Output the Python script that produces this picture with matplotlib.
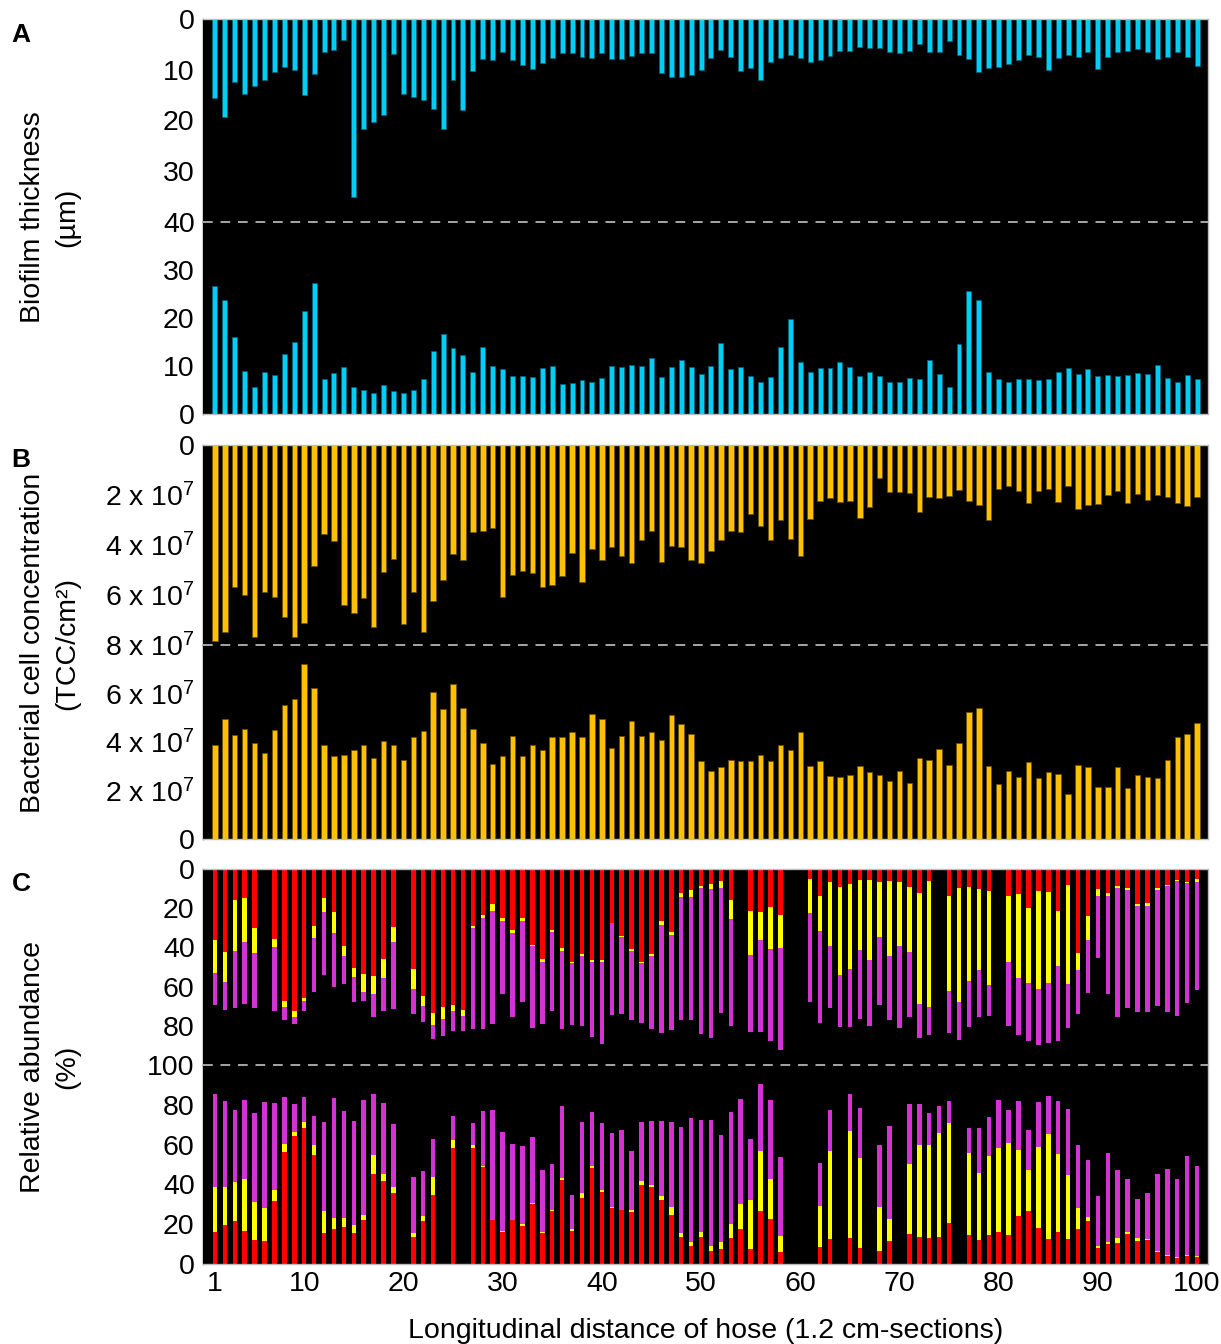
import numpy as np
import matplotlib
matplotlib.use("Agg")
import matplotlib.pyplot as plt

plt.rcParams['font.family'] = ['Liberation Sans', 'DejaVu Sans']
plt.rcParams['mathtext.fontset'] = 'custom'
plt.rcParams['mathtext.rm'] = 'Liberation Sans'
plt.rcParams['mathtext.it'] = 'Liberation Sans'

nan = np.nan
sections = np.arange(1, 101)

# A: biofilm thickness (um), top = upper half (hanging), bottom = lower half
thick_top = [15.5, 19.3, 12.5, 14.8, 13.2, 12.0, 10.5, 9.5, 10.1, 15.0,
             10.9, 6.5, 6.1, 4.1, 35.1, 21.7, 20.3, 18.9, 6.8, 14.7,
             15.3, 16.0, 17.7, 21.6, 12.0, 17.9, 10.3, 7.8, 8.0, 6.6,
             8.0, 9.0, 9.9, 8.7, 7.6, 6.7, 6.7, 7.4, 7.7, 6.7,
             7.8, 7.8, 7.3, 6.7, 6.7, 10.7, 11.5, 11.5, 11.1, 10.0,
             7.6, 6.2, 7.4, 10.3, 9.7, 12.1, 8.5, 7.6, 7.0, 7.6,
             8.5, 8.0, 7.3, 6.4, 6.4, 5.5, 5.7, 5.7, 6.5, 6.7,
             6.3, 4.9, 6.5, 6.5, 4.3, 7.0, 7.8, 10.5, 9.7, 9.5,
             8.8, 8.0, 7.0, 7.4, 10.0, 7.6, 7.0, 7.4, 6.5, 9.9,
             7.4, 6.5, 6.3, 6.0, 6.5, 7.8, 7.4, 6.5, 7.4, 9.2]
thick_bot = [26.6, 23.7, 16.1, 9.0, 5.7, 8.8, 8.2, 12.5, 14.9, 21.4,
             27.3, 7.2, 8.6, 9.7, 5.7, 5.0, 4.4, 6.1, 4.8, 4.4,
             5.0, 7.3, 13.1, 16.7, 13.7, 12.2, 8.8, 13.9, 9.9, 9.3,
             8.0, 8.0, 7.7, 9.6, 10.0, 6.2, 6.4, 7.0, 6.7, 7.5,
             9.9, 9.7, 10.3, 9.9, 11.6, 7.7, 9.7, 11.2, 9.7, 8.4,
             10.0, 14.8, 9.3, 9.7, 8.0, 6.7, 7.7, 13.9, 19.7, 10.8,
             8.8, 9.6, 9.6, 10.8, 9.7, 8.0, 8.8, 8.0, 6.7, 6.7,
             7.5, 7.3, 11.2, 8.4, 5.7, 14.5, 25.6, 23.7, 8.8, 7.2,
             6.7, 7.3, 7.3, 7.0, 7.3, 8.8, 9.6, 8.4, 9.3, 8.0,
             8.2, 8.0, 8.2, 8.6, 8.4, 10.3, 7.5, 6.7, 8.2, 7.3]

# B: bacterial cell concentration (x 1e7 TCC/cm2)
tcc_top = [7.83, 7.49, 5.69, 5.99, 7.69, 5.88, 6.09, 6.89, 7.69, 7.13,
           4.84, 3.56, 3.85, 6.40, 6.72, 6.13, 7.28, 5.08, 4.56, 7.17,
           5.88, 7.49, 6.25, 5.40, 4.35, 4.59, 3.47, 3.44, 3.31, 6.09,
           5.20, 5.05, 5.11, 5.69, 5.61, 5.24, 4.31, 5.48, 4.16, 4.59,
           4.09, 4.45, 4.73, 3.80, 3.44, 4.69, 4.04, 4.09, 4.59, 4.73,
           4.25, 3.80, 3.44, 3.48, 2.77, 3.25, 3.80, 3.01, 3.76, 4.45,
           2.95, 2.25, 2.12, 2.29, 2.25, 2.91, 2.49, 1.31, 1.87, 1.87,
           1.91, 2.67, 2.08, 2.12, 2.05, 1.80, 2.25, 2.40, 2.99, 1.76,
           1.65, 1.83, 2.32, 1.83, 1.76, 2.29, 1.65, 2.56, 2.40, 2.36,
           2.01, 1.83, 2.32, 1.96, 2.21, 2.01, 2.08, 2.32, 2.45, 2.08]
tcc_bot = [3.89, 4.93, 4.30, 4.52, 3.97, 3.53, 4.48, 5.52, 5.78, 7.21,
           6.21, 3.89, 3.44, 3.47, 3.68, 3.89, 3.33, 4.04, 3.89, 3.26,
           4.19, 4.45, 6.08, 5.37, 6.41, 5.41, 4.52, 3.97, 3.11, 3.44,
           4.26, 3.44, 3.89, 3.68, 4.19, 4.22, 4.41, 4.22, 5.16, 4.93,
           3.77, 4.26, 4.88, 4.26, 4.41, 4.10, 5.12, 4.73, 4.34, 3.22,
           2.82, 2.96, 3.26, 3.22, 3.22, 3.47, 3.22, 3.89, 3.68, 4.40,
           3.00, 3.22, 2.59, 2.55, 2.62, 3.00, 2.75, 2.62, 2.40, 2.82,
           2.32, 3.33, 3.26, 3.73, 3.04, 3.97, 5.23, 5.41, 3.00, 2.25,
           2.82, 2.55, 3.16, 2.51, 2.75, 2.66, 1.85, 3.04, 2.96, 2.15,
           2.15, 2.96, 2.11, 2.62, 2.55, 2.51, 3.26, 4.19, 4.34, 4.77]

# C: relative abundance (%) of three groups, upper half
ab_top_red = [36.1, 42.1, 16.0, 14.8, 30.0, nan, 35.8, 67.6, 72.7, 65.6,
              29.0, 14.8, 22.0, 39.5, 50.6, 53.5, 54.5, 45.7, 29.6, nan,
              50.9, 64.6, 73.4, 70.2, 69.3, 71.9, 29.0, 23.3, 17.9, 25.2,
              31.3, 25.2, 38.7, 46.0, 31.3, 40.2, 47.7, 43.4, 46.3, 46.3,
              27.6, 34.1, 40.7, 47.7, 43.4, 26.4, 31.9, 12.3, 10.6, 8.6,
              7.5, 6.0, 15.8, nan, 21.4, 21.7, 19.2, 23.5, nan, nan,
              5.0, 13.7, 6.5, 9.2, 7.5, 5.5, 5.5, 6.5, 6.0, 6.5,
              9.2, 12.3, 6.0, nan, 13.7, 9.8, 9.2, 10.1, 11.3, nan,
              13.7, 12.7, 20.0, 11.3, 11.8, 21.4, 8.0, 42.8, 24.0, 10.1,
              12.3, 8.6, 9.8, 17.8, 17.1, 9.8, 8.0, 5.5, 6.5, 5.1]
ab_top_yel = [17.0, 15.7, 25.6, 22.3, 13.1, nan, 4.1, 2.6, 2.8, 1.7,
              6.3, 7.2, 10.7, 4.8, 4.3, 9.0, 9.4, 9.7, 7.5, nan,
              10.4, 5.1, 6.2, 6.3, 3.1, 2.9, 1.2, 1.9, 3.4, 1.2,
              1.6, 1.2, 0.5, 1.4, 0.6, 1.4, 0.5, 1.1, 0.9, 0.9,
              0.0, 0.7, 1.0, 0.5, 1.2, 2.0, 1.7, 2.0, 3.8, 1.2,
              2.6, 3.8, 9.7, nan, 22.6, 14.6, 21.4, 16.6, nan, nan,
              17.6, 18.0, 32.9, 45.1, 43.4, 35.6, 40.7, 28.4, 38.5, 32.9,
              33.3, 56.5, 64.5, nan, 48.6, 58.2, 48.0, 41.6, 47.8, nan,
              33.9, 42.8, 38.2, 49.8, 46.4, 28.3, 50.6, 8.6, 12.3, 3.6,
              1.4, 1.2, 0.8, 0.9, 1.6, 0.8, 0.9, 0.5, 0.5, 1.7]
ab_top_mag = [16.2, 14.1, 29.1, 31.7, 27.6, nan, 32.3, 7.0, 3.5, 4.9,
              27.2, 32.0, 27.6, 14.5, 13.2, 5.1, 11.4, 17.3, 34.3, nan,
              12.6, 8.2, 7.3, 8.5, 10.4, 8.0, 51.2, 56.2, 57.7, 37.5,
              42.4, 41.7, 41.7, 31.6, 40.8, 40.0, 31.4, 35.7, 38.7, 41.9,
              46.8, 39.1, 35.3, 30.2, 37.0, 55.4, 48.5, 62.7, 62.5, 74.4,
              76.2, 63.8, 54.5, nan, 39.4, 47.1, 47.1, 52.2, nan, nan,
              45.4, 46.9, 31.7, 26.2, 29.6, 35.3, 33.8, 34.3, 32.4, 41.9,
              32.8, 17.5, 14.3, nan, 21.4, 19.2, 23.6, 24.0, 15.7, nan,
              32.4, 29.3, 29.8, 28.6, 30.8, 38.3, 22.7, 22.6, 27.1, 31.5,
              50.3, 65.5, 60.5, 54.1, 54.4, 59.4, 64.2, 68.8, 61.5, 54.7]

# C: lower half
ab_bot_red = [15.9, 19.4, 21.4, 16.7, 12.2, 11.7, 31.7, 56.3, 64.3, 68.3,
              54.8, 15.4, 17.4, 18.4, 15.7, 21.9, 45.4, 41.6, 35.9, nan,
              13.7, 21.4, 34.7, nan, 58.4, nan, 58.4, 48.6, 22.0, 16.0,
              21.9, 18.9, 30.0, 15.5, 26.4, 42.2, 16.4, 33.4, 48.2, 36.4,
              27.9, 26.9, 26.0, 39.7, 38.9, 32.2, 24.7, 13.7, 9.2, 13.5,
              6.5, 7.3, 13.0, 17.7, 7.3, 26.5, 22.8, 6.0, nan, nan,
              nan, 8.5, 12.5, nan, 13.0, 7.8, nan, 6.5, 11.5, nan,
              15.0, 13.5, 13.0, 13.5, 20.8, nan, 14.7, 12.0, 14.7, 16.0,
              14.7, 24.3, 26.5, 18.2, 12.5, 16.0, 12.5, 17.7, 21.7, 7.8,
              9.8, 10.7, 15.3, 11.5, 12.3, 6.2, 4.0, 3.0, 3.8, 3.6]
ab_bot_yel = [22.7, 19.5, 19.7, 25.9, 19.0, 16.3, 5.5, 4.0, 2.1, 3.0,
              5.0, 11.3, 5.5, 4.5, 4.0, 2.6, 9.4, 3.8, 3.0, nan,
              1.7, 2.8, 8.9, nan, 3.7, nan, 1.4, 0.6, 0.2, 0.4,
              0.3, 1.0, 0.6, 0.4, 0.5, 0.9, 1.1, 2.2, 1.0, 0.8,
              0.8, 0.3, 1.2, 2.0, 0.8, 2.0, 3.8, 1.8, 1.8, 2.5,
              2.7, 3.7, 7.3, 12.5, 25.0, 30.2, 20.0, 8.0, nan, nan,
              nan, 20.5, 44.5, nan, 53.7, 45.5, nan, 22.0, 11.2, nan,
              35.2, 46.5, 47.0, 52.3, 50.2, nan, 41.0, 33.7, 39.8, 42.3,
              46.0, 32.9, 20.5, 40.8, 53.0, 39.2, 32.3, 10.3, 1.8, 1.4,
              1.4, 2.5, 0.9, 1.5, 0.4, 0.3, 0.5, 0.5, 0.5, 0.3]
ab_bot_mag = [47.0, 43.1, 36.5, 40.0, 44.8, 53.5, 43.6, 23.7, 14.1, 12.7,
              14.8, 44.6, 60.6, 53.9, 52.4, 58.1, 30.5, 35.4, 31.4, nan,
              28.2, 22.5, 19.0, nan, 12.2, nan, 11.2, 27.8, 55.1, 49.7,
              38.1, 39.5, 33.3, 31.3, 23.4, 36.5, 17.2, 35.7, 27.3, 33.6,
              36.9, 39.9, 29.6, 29.6, 32.4, 37.9, 42.8, 53.1, 62.3, 56.3,
              63.1, 54.0, 55.9, 52.6, 30.5, 33.8, 39.5, 39.8, nan, nan,
              nan, 21.8, 20.3, nan, 18.6, 25.2, nan, 31.5, 46.6, nan,
              30.0, 20.2, 15.7, 13.5, 10.7, nan, 12.6, 22.6, 19.2, 24.2,
              16.8, 24.6, 20.3, 22.2, 18.8, 26.6, 33.2, 32.0, 29.0, 24.8,
              44.5, 33.8, 26.3, 19.8, 22.8, 38.5, 43.2, 39.0, 50.0, 45.3]

xtick_vals = [1, 10, 20, 30, 40, 50, 60, 70, 80, 90, 100]

W_PX, H_PX = 1221, 1344
fig = plt.figure(figsize=(W_PX / 100, H_PX / 100), dpi=100)
fig.patch.set_facecolor('white')

LEFT, RIGHT = 203, 1208
spine_col = '#bdbdbd'
dash_col = '#a6a6a6'
fs = 20.5


def make_ax(top, bot):
    ax = fig.add_axes([LEFT / W_PX, 1 - bot / H_PX, (RIGHT - LEFT) / W_PX, (bot - top) / H_PX])
    ax.set_facecolor('black')
    ax.set_xlim(-0.2, 101.1)
    ax.tick_params(length=0, labelsize=fs, pad=6)
    for s in ax.spines.values():
        s.set_color(spine_col)
        s.set_linewidth(1.0)
    ax.spines['left'].set_color('black')
    ax.set_xticks([])
    return ax


def pair(top, mid, bot, ymax, top_ticks, bot_ticks, fmt):
    ax_t = make_ax(top, mid)
    ax_b = make_ax(mid, bot)
    ax_t.set_ylim(ymax, 0)
    ax_b.set_ylim(0, ymax)
    ax_t.set_yticks(top_ticks)
    ax_t.set_yticklabels([fmt(v) for v in top_ticks])
    ax_b.set_yticks(bot_ticks)
    ax_b.set_yticklabels([fmt(v) for v in bot_ticks])
    ax_t.spines['bottom'].set_visible(False)
    ax_b.spines['top'].set_visible(False)
    ax_b.axhline(ymax, color=dash_col, lw=1.4, ls=(0, (5, 4)), clip_on=False, zorder=5)
    return ax_t, ax_b


# ---- panel A
axA_t, axA_b = pair(19, 222, 414, 40, [0, 10, 20, 30, 40], [0, 10, 20, 30], lambda v: f"{v}")
cyan = '#00cff5'
axA_t.bar(sections, thick_top, width=0.5, color=cyan, edgecolor='#00617a', linewidth=0.6)
axA_b.bar(sections, thick_bot, width=0.5, color=cyan, edgecolor='#00617a', linewidth=0.6)


# ---- panel B
def sci(v):
    return "0" if v == 0 else rf"{v} x 10$^{{7}}$"


axB_t, axB_b = pair(445, 645, 839, 8, [0, 2, 4, 6, 8], [0, 2, 4, 6], sci)
gold = '#ffc000'
axB_t.bar(sections, tcc_top, width=0.55, color=gold, edgecolor='#6b5000', linewidth=0.6)
axB_b.bar(sections, tcc_bot, width=0.55, color=gold, edgecolor='#6b5000', linewidth=0.6)

# ---- panel C
axC_t, axC_b = pair(869, 1065, 1264, 100, [0, 20, 40, 60, 80, 100], [0, 20, 40, 60, 80], lambda v: f"{v}")
red, yel, mag = '#ff0000', '#ffff00', '#d233d2'
bw = 0.45
for ax, r, y, m in [(axC_t, ab_top_red, ab_top_yel, ab_top_mag),
                    (axC_b, ab_bot_red, ab_bot_yel, ab_bot_mag)]:
    r = np.array(r)
    y = np.array(y)
    m = np.array(m)
    ax.bar(sections, r, width=bw, color=red, linewidth=0)
    ax.bar(sections, y, width=bw, bottom=r, color=yel, linewidth=0)
    ax.bar(sections, m, width=bw, bottom=r + y, color=mag, linewidth=0)

axC_b.set_xticks(xtick_vals)
axC_b.set_xticklabels([str(v) for v in xtick_vals])
axC_b.tick_params(axis='x', pad=5)
axC_b.set_xlabel("Longitudinal distance of hose (1.2 cm-sections)", fontsize=20.5, labelpad=15)

# y labels and panel letters
ylab_x = 50 / W_PX
lab_kw = dict(rotation=90, ha='center', va='center', fontsize=20.5,
              multialignment='center', linespacing=1.4)
fig.text(ylab_x, 1 - 217 / H_PX, "Biofilm thickness\n(µm)", **lab_kw)
fig.text(ylab_x, 1 - 643 / H_PX, "Bacterial cell concentration\n(TCC/cm²)", **lab_kw)
fig.text(ylab_x, 1 - 1067 / H_PX, "Relative abundance\n(%)", **lab_kw)

for letter, yp in [("A", 35), ("B", 460), ("C", 884)]:
    fig.text(21 / W_PX, 1 - yp / H_PX, letter, fontsize=19, fontweight='bold', ha='center', va='center')

fig.savefig("out.png", dpi=100, facecolor='white')
